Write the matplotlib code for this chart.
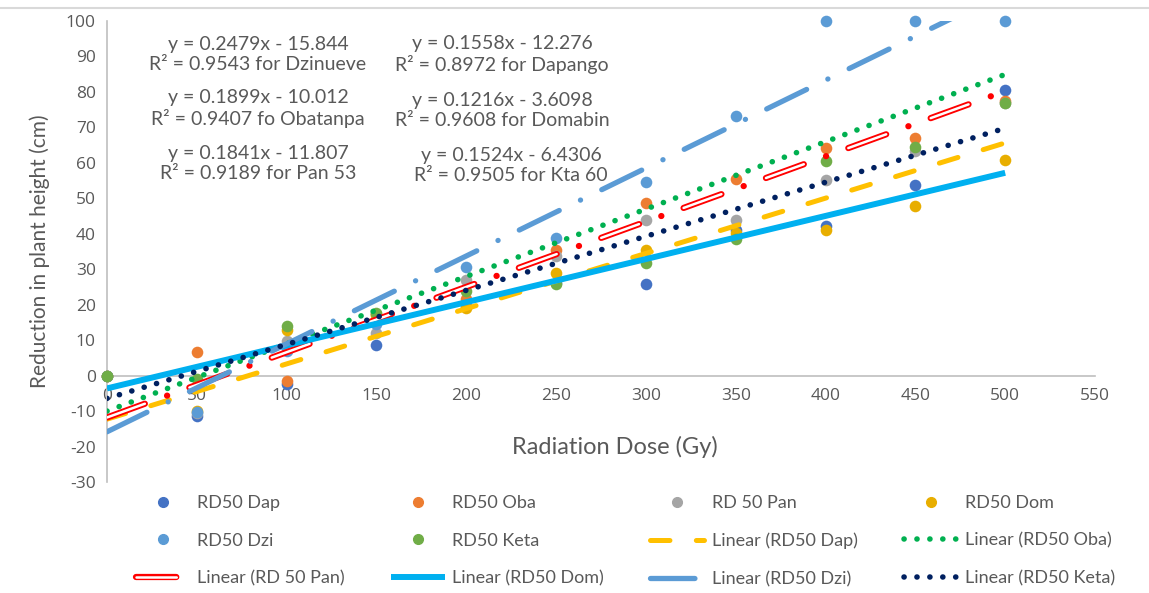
import matplotlib
matplotlib.use("Agg")
import matplotlib.pyplot as plt
import numpy as np
from matplotlib.lines import Line2D

plt.rcParams['lines.scale_dashes'] = False
plt.rcParams['axes.unicode_minus'] = False
plt.rcParams['font.family'] = ['Lato', 'DejaVu Sans']

# ---------------- data ----------------
dose = [0, 50, 100, 150, 200, 250, 300, 350, 400, 450, 500]

rd50_dap = [0, -11.3, -2.3, 8.7, 19.5, 26.0, 25.7, 41.0, 42.3, 53.7, 80.5]
rd50_oba = [0, 6.6, -1.6, 17.5, 21.5, 35.3, 48.7, 55.4, 64.2, 67.0, 77.5]
rd50_pan = [0, -10.5, 9.7, 12.1, 27.1, 33.6, 43.8, 43.8, 55.3, 63.3, 77.0]
rd50_dom = [0, -10.0, 13.0, 17.2, 19.1, 28.9, 35.3, 40.2, 41.2, 47.7, 60.9]
rd50_dzi = [0, -10.3, 6.9, 14.5, 30.7, 38.8, 54.6, 73.3, 100, 100, 100]
rd50_keta = [0, -1.0, 13.9, 17.7, 24.0, 25.7, 31.8, 38.5, 60.6, 64.4, 76.9]

series_names = ["RD50 Dap", "RD50 Oba", "RD 50 Pan", "RD50 Dom", "RD50 Dzi", "RD50 Keta"]
series_values = [rd50_dap, rd50_oba, rd50_pan, rd50_dom, rd50_dzi, rd50_keta]
series_colors = ["#4472C4", "#ED7D31", "#A5A5A5", "#E8AE00", "#5B9BD5", "#70AD47"]

# trendline coefficients (from the equations on the chart)
trend_slope = [0.1558, 0.1899, 0.1841, 0.1216, 0.2479, 0.1524]
trend_intercept = [-12.276, -10.012, -11.807, -3.6098, -15.844, -6.4306]
trend_range = [0, 500]

equations = [
    "y = 0.2479x - 15.844\nR² = 0.9543 for Dzinueve",
    "y = 0.1899x - 10.012\nR² = 0.9407 fo Obatanpa",
    "y = 0.1841x - 11.807\nR² = 0.9189 for Pan 53",
    "y = 0.1558x - 12.276\nR² = 0.8972 for Dapango",
    "y = 0.1216x - 3.6098\nR² = 0.9608 for Domabin",
    "y = 0.1524x - 6.4306\nR² = 0.9505 for Kta 60",
]
eq_pos = [(84, 90.5), (84, 75.3), (84, 59.8), (220, 90.5), (220, 74.8), (225, 59.2)]

x_ticks = list(range(0, 551, 50))
y_ticks = list(range(-30, 101, 10))

# ---------------- figure ----------------
W, H = 1149, 593
fig = plt.figure(figsize=(W / 100, H / 100), dpi=100)
ax = fig.add_axes([107 / W, 1 - 482 / H, (1095 - 107) / W, (482 - 21) / H])
ax.set_xlim(0, 550)
ax.set_ylim(-30, 100)

txt_col = "#595959"
axis_col = "#BFBFBF"

for s in ["top", "right"]:
    ax.spines[s].set_visible(False)
ax.spines["bottom"].set_position(("data", 0))
ax.spines["bottom"].set_color(axis_col)
ax.spines["left"].set_color(axis_col)
ax.spines["bottom"].set_linewidth(1.2)
ax.spines["left"].set_linewidth(1.2)

ax.set_xticks(x_ticks)
ax.set_yticks(y_ticks)
ax.tick_params(length=0, colors=txt_col, labelsize=12.5)
ax.tick_params(axis="x", pad=9)
ax.tick_params(axis="y", pad=8)
for lab in ax.get_xticklabels() + ax.get_yticklabels():
    lab.set_family(['Open Sans', 'DejaVu Sans'])

# scatter points
scatter_handles = []
for name, vals, col in zip(series_names, series_values, series_colors):
    ax.scatter(dose, vals, s=70, color=col, zorder=3, clip_on=False, linewidths=0)
    scatter_handles.append(Line2D([], [], ls="none", marker="o", ms=7, color=col, mec=col))

# trendlines
xt = np.array(trend_range, dtype=float)
def tl(i):
    return trend_slope[i] * xt + trend_intercept[i]

l_dap = dict(color="#FFC000", lw=3.6, ls=(0, (14, 19)), solid_capstyle="round", dash_capstyle="round")
l_oba = dict(color="#00B050", lw=4.0, ls=(0, (0.1, 9.2)), dash_capstyle="round")
l_pan_o = dict(color="#FF0000", lw=4.5, ls=(0, (29, 17, 0.1, 17)), dash_capstyle="round")
l_pan_i = dict(color="white", lw=1.8, ls=(0, (29, 34.1)), dash_capstyle="round")
l_dom = dict(color="#00B0F0", lw=4.3, ls="-", solid_capstyle="butt")
l_dzi = dict(color="#5B9BD5", lw=3.8, ls=(0, (32, 17, 0.1, 17)), dash_capstyle="round")
l_keta = dict(color="#002060", lw=4.0, ls=(0, (0.1, 9.2)), dash_capstyle="round")

ax.plot(xt, tl(0), zorder=4, **l_dap)
ax.plot(xt, tl(1), zorder=4, **l_oba)
ax.plot(xt, tl(2), zorder=4, **l_pan_o)
ax.plot(xt, tl(2), zorder=4.1, **l_pan_i)
ax.plot(xt, tl(3), zorder=4.2, **l_dom)
ax.plot(xt, tl(4), zorder=4.3, **l_dzi)
ax.plot(xt, tl(5), zorder=4.4, **l_keta)

# equations
for txt, (x, y) in zip(equations, eq_pos):
    ax.text(x, y, txt, ha="center", va="center", fontsize=14, color=txt_col,
            linespacing=1.2, zorder=5)

# axis titles
ax.text(283, -20, "Radiation Dose (Gy)", ha="center", va="center", fontsize=17, color=txt_col)
fig.text(40 / W, 1 - 251 / H, "Reduction in plant height (cm)", rotation=90,
         ha="center", va="center", fontsize=15, color=txt_col)

# chart frame top line
fig.add_artist(Line2D([0, 1], [1 - 8 / H, 1 - 8 / H], color="#D9D9D9", lw=1.5))

# legend
line_handles = [
    Line2D([], [], **l_dap),
    Line2D([], [], **l_oba),
    (Line2D([], [], **l_pan_o), Line2D([], [], **l_pan_i)),
    Line2D([], [], **l_dom),
    Line2D([], [], **l_dzi),
    Line2D([], [], **l_keta),
]
line_labels = ["Linear (" + n + ")" for n in series_names]
handles = scatter_handles + line_handles
labels = series_names + line_labels
order = [0, 4, 8, 1, 5, 9, 2, 6, 10, 3, 7, 11]
leg = fig.legend([handles[i] for i in order], [labels[i] for i in order],
                 ncol=4, loc="upper left", bbox_to_anchor=(136 / W, 1 - 495 / H),
                 frameon=False, fontsize=13, handlelength=3.0, handletextpad=0.4,
                 columnspacing=2.55, labelspacing=1.2, borderaxespad=0, borderpad=0)
for t in leg.get_texts():
    t.set_color(txt_col)

fig.savefig("out.png", dpi=100)
